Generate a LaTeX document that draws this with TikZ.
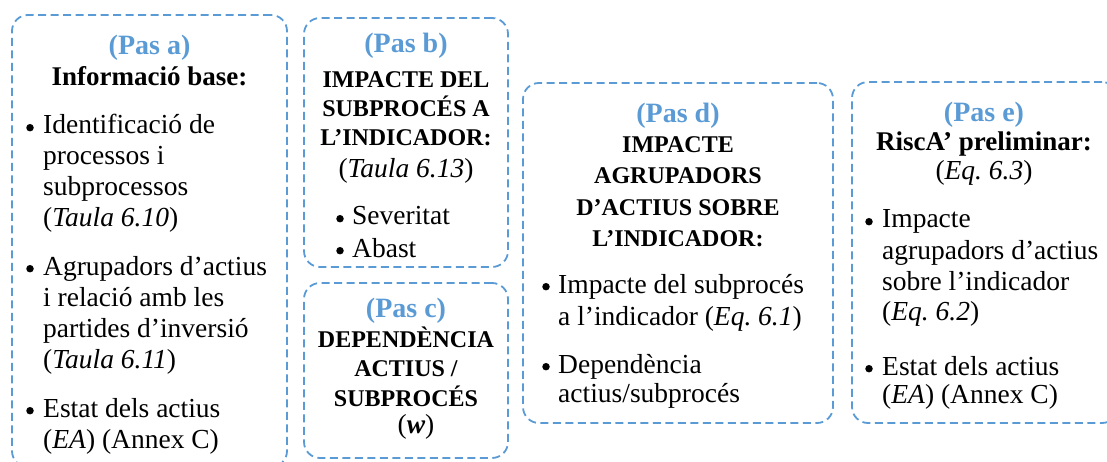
\documentclass[tikz,border=0pt]{standalone}
\usepackage{fontspec}
\setmainfont{Liberation Serif}
\frenchspacing
\definecolor{boxblue}{HTML}{5B9BD5}
\tikzset{
  pasbox/.style={draw=boxblue, line width=1.8pt, dash pattern=on 8pt off 4.5pt,
    rounded corners=16pt, inner sep=0pt, rectangle},
  pastitle/.style={text=boxblue, font=\fontsize{28}{31}\selectfont\bfseries, anchor=base, inner sep=0pt},
  bodyl/.style={font=\fontsize{27.5}{31}\selectfont, anchor=base west, inner sep=0pt},
  bodyc/.style={font=\fontsize{27.5}{31}\selectfont, anchor=base, inner sep=0pt},
  boldc/.style={font=\fontsize{27}{31}\selectfont\bfseries, anchor=base, inner sep=0pt},
  capc/.style={font=\fontsize{24}{29}\selectfont\bfseries, anchor=base, inner sep=0pt},
  bul/.style={circle, fill=black, inner sep=0pt, minimum size=7.5pt, yshift=6.3pt},
}
\begin{document}
\begin{tikzpicture}[x=1pt,y=-1pt]
\useasboundingbox (0,0) rectangle (1107,462);
% boxes
\node[pasbox, minimum width=275pt, minimum height=452pt] (boxA) at (149.5,241) {};
\node[pasbox, minimum width=204pt, minimum height=249pt] (boxB) at (406,142.5) {};
\node[pasbox, minimum width=204pt, minimum height=175pt] (boxC) at (406,370.5) {};
\node[pasbox, minimum width=310pt, minimum height=340pt] (boxD) at (678,253) {};
\node[pasbox, minimum width=266pt, minimum height=341pt] (boxE) at (985,252.5) {};
% box a
\node[pastitle] (a0) at (149.5,55) {(Pas a)};
\node[boldc] (a1) at (149.5,86) {Informació base:};
\node[bul] (ab1) at (30,134) {};
\node[bodyl] (a2) at (43,134) {Identificació de};
\node[bodyl] (a3) at (43,165) {processos i};
\node[bodyl] (a4) at (43,196) {subprocessos};
\node[bodyl] (a5) at (43,227) {(\textit{Taula 6.10})};
\node[bul] (ab2) at (30,275) {};
\node[bodyl] (a6) at (43,275) {Agrupadors d’actius};
\node[bodyl] (a7) at (43,306) {i relació amb les};
\node[bodyl] (a8) at (43,337) {partides d’inversió};
\node[bodyl] (a9) at (43,368) {(\textit{Taula 6.11})};
\node[bul] (ab3) at (30,417) {};
\node[bodyl] (a10) at (43,417) {Estat dels actius};
\node[bodyl] (a11) at (43,448) {(\textit{EA}) (Annex C)};
% box b
\node[pastitle] (b0) at (406,53) {(Pas b)};
\node[capc] (b1) at (406,88) {IMPACTE DEL};
\node[capc] (b2) at (406,117) {SUBPROCÉS A};
\node[capc] (b3) at (406,146) {L’INDICADOR:};
\node[bodyc] (b4) at (406,178) {(\textit{Taula 6.13})};
\node[bul] (bb1) at (340,225) {};
\node[bodyl] (b5) at (352,225) {Severitat};
\node[bul] (bb2) at (340,257) {};
\node[bodyl] (b6) at (352,257) {Abast};
% box c
\node[pastitle] (c0) at (406,317) {(Pas c)};
\node[capc] (c1) at (406,347) {DEPENDÈNCIA};
\node[capc] (c2) at (406,376) {ACTIUS /};
\node[capc] (c3) at (406,406) {SUBPROCÉS};
\node[bodyc] (c4) at (416,433) {(\textbf{\textit{w}})};
% box d
\node[pastitle] (d0) at (678,123) {(Pas d)};
\node[capc] (d1) at (678,153) {IMPACTE};
\node[capc] (d2) at (678,184) {AGRUPADORS};
\node[capc] (d3) at (678,216) {D’ACTIUS SOBRE};
\node[capc] (d4) at (678,247) {L’INDICADOR:};
\node[bul] (db1) at (546,293) {};
\node[bodyl] (d5) at (558,293) {Impacte del subprocés};
\node[bodyl] (d6) at (558,325) {a l’indicador (\textit{Eq. 6.1})};
\node[bul] (db2) at (546,373) {};
\node[bodyl] (d7) at (558,373) {Dependència};
\node[bodyl] (d8) at (558,402) {actius/subprocés};
% box e
\node[pastitle] (e0) at (984,122) {(Pas e)};
\node[boldc] (e1) at (984,151) {RiscA’ preliminar:};
\node[bodyc] (e2) at (984,180) {(\textit{Eq. 6.3})};
\node[bul] (eb1) at (869,228) {};
\node[bodyl] (e3) at (882,228) {Impacte};
\node[bodyl] (e4) at (882,259) {agrupadors d’actius};
\node[bodyl] (e5) at (882,290) {sobre l’indicador};
\node[bodyl] (e6) at (882,320) {(\textit{Eq. 6.2})};
\node[bul] (eb2) at (869,375) {};
\node[bodyl] (e7) at (882,375) {Estat dels actius};
\node[bodyl] (e8) at (882,403) {(\textit{EA}) (Annex C)};
\end{tikzpicture}
\end{document}
